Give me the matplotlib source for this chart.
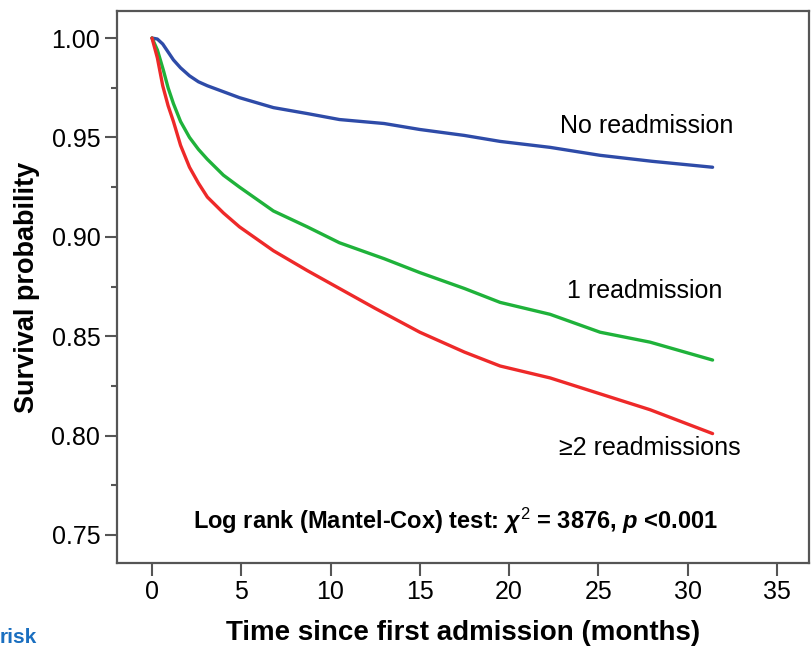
import matplotlib as mpl
mpl.use('Agg')
import matplotlib.pyplot as plt
from matplotlib.ticker import MultipleLocator

plt.rcParams['font.family'] = ['Liberation Sans', 'DejaVu Sans']
plt.rcParams['mathtext.fontset'] = 'custom'
plt.rcParams['mathtext.rm'] = 'Liberation Sans'
plt.rcParams['mathtext.it'] = 'Liberation Sans:italic:bold'
plt.rcParams['mathtext.bf'] = 'Liberation Sans:bold'

# time since first admission (months) / survival probability
t_none = [0, 0.3, 0.6, 0.9, 1.2, 1.6, 2.1, 2.6, 3.1, 4.0, 4.9, 6.8, 8.7, 10.5, 13, 15, 17.5, 19.5, 22.3, 25.1, 28, 31.4]
s_none = [1.0, 0.9995, 0.997, 0.993, 0.989, 0.985, 0.981, 0.978, 0.976, 0.973, 0.970, 0.965, 0.962, 0.959, 0.957, 0.954, 0.951, 0.948, 0.945, 0.941, 0.938, 0.935]

t_one = [0, 0.3, 0.63, 0.9, 1.2, 1.6, 2.1, 2.6, 3.1, 4.0, 4.9, 6.8, 8.7, 10.5, 13, 15, 17.5, 19.5, 22.3, 25.1, 27.9, 31.4]
s_one = [1.0, 0.994, 0.984, 0.975, 0.967, 0.958, 0.950, 0.944, 0.939, 0.931, 0.925, 0.913, 0.905, 0.897, 0.889, 0.882, 0.874, 0.867, 0.861, 0.852, 0.847, 0.838]

t_two = [0, 0.3, 0.6, 0.9, 1.2, 1.6, 2.1, 2.6, 3.1, 4.0, 4.9, 6.8, 8.7, 10.5, 12.5, 15, 17.5, 19.5, 22.3, 25.1, 27.9, 31.4]
s_two = [1.0, 0.990, 0.976, 0.966, 0.958, 0.946, 0.935, 0.927, 0.920, 0.912, 0.905, 0.893, 0.883, 0.874, 0.864, 0.852, 0.842, 0.835, 0.829, 0.821, 0.813, 0.801]

labels = ["No readmission", "1 readmission", "\u22652 readmissions"]
colors = ["#2e4ba8", "#1fb23a", "#ee2929"]

fig = plt.figure(figsize=(8.11, 6.48), dpi=100)
ax = fig.add_axes([0.1443, 0.1312, 0.8532, 0.8518])

for tt, ss, c in zip([t_none, t_one, t_two], [s_none, s_one, s_two], colors):
    ax.plot(tt, ss, color=c, lw=2.4, solid_capstyle='round', solid_joinstyle='round')

ax.set_xlim(-1.96, 36.8)
ax.set_ylim(0.7359, 1.0136)
ax.xaxis.set_major_locator(MultipleLocator(5))
ax.yaxis.set_major_locator(MultipleLocator(0.05))
ax.yaxis.set_minor_locator(MultipleLocator(0.025))
ax.yaxis.set_major_formatter(mpl.ticker.FormatStrFormatter('%.2f'))

for sp in ax.spines.values():
    sp.set_color('#555555')
    sp.set_linewidth(1.6)
ax.tick_params(axis='both', which='major', length=9, width=1.5, color='#555555',
               labelsize=18, pad=3)
ax.tick_params(axis='y', which='minor', length=4, width=1.5, color='#555555')

ax.set_xlabel("Time since first admission (months)", fontsize=20, fontweight='bold', labelpad=12)
ax.set_ylabel("Survival probability", fontsize=19.5, fontweight='bold', labelpad=8)

ax.text(27.7, 0.956, labels[0], fontsize=18, ha='center', va='center')
ax.text(27.6, 0.8726, labels[1], fontsize=18, ha='center', va='center')
ax.text(27.9, 0.7936, labels[2], fontsize=18, ha='center', va='center')

ax.text(17.0, 0.757, r"Log rank (Mantel-Cox) test: $\chi^2$ = 3876, $\it{p}$ <0.001",
        fontsize=17, fontweight='bold', ha='center', va='center')

fig.text(0.0, 0.002, "risk", color='#1a6fc0', fontsize=15, fontweight='bold',
         ha='left', va='bottom')

fig.savefig('out.png', dpi=100)
